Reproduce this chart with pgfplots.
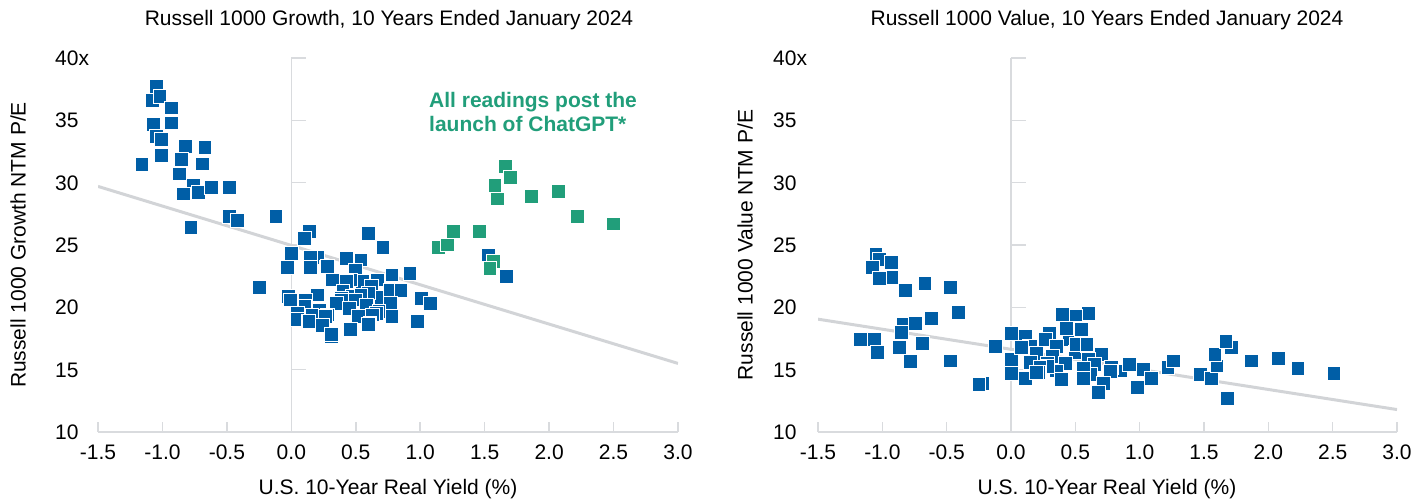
\documentclass[border=0pt]{standalone}
\usepackage{fontspec}
\setmainfont{Liberation Sans}
\usepackage{pgfplots}
\pgfplotsset{compat=1.18}
\definecolor{pblue}{RGB}{0,94,166}
\definecolor{pgreen}{RGB}{33,158,122}
\definecolor{axgray}{RGB}{217,219,222}
\definecolor{lngray}{RGB}{210,212,215}
\pgfplotsset{
  myaxis/.style={
    scale only axis, height=374pt,
    xmin=-1.5, xmax=3, ymin=10, ymax=40,
    axis x line*=bottom, axis y line*=left,
    y axis line style={draw=none},
    x axis line style={draw=axgray, line width=1.5pt},
    xtick={-1.5,-1,-0.5,0,0.5,1,1.5,2,2.5,3},
    xticklabels={-1.5,-1.0,-0.5,0.0,0.5,1.0,1.5,2.0,2.5,3.0},
    ytick={10,15,20,25,30,35,40},
    yticklabels={10,15,20,25,30,35,40x},
    xtick style={draw=axgray, line width=1.5pt},
    ytick style={draw=none},
    major tick length=10pt,
    tick align=inside,
    tick label style={font=\fontsize{21}{25}\selectfont, text=black},
    xticklabel style={anchor=base, inner sep=0pt, yshift=-27.5pt},
    yticklabel style={anchor=base west, inner sep=0pt, yshift=-7.5pt},
  },
  bpts/.style={only marks, mark=square*, mark size=6.9pt,
    mark options={fill=pblue, draw=white, line width=0.8pt}},
  gpts/.style={only marks, mark=square*, mark size=6.9pt,
    mark options={fill=pgreen, draw=white, line width=0.8pt}},
}
\begin{document}
\begin{tikzpicture}
\path[use as bounding box] (0,0) rectangle (1426pt,500pt);
% ---------------- Left chart ----------------
\begin{axis}[myaxis, width=580pt, at={(98pt,68pt)}, anchor=south west,
  yticklabel style={xshift=-43pt}]
\draw[axgray, line width=1.5pt] (axis cs:0,10) -- (axis cs:0,40);
\draw[axgray, line width=1.5pt] (axis cs:0,15) -- ++(15pt,0pt);
\draw[axgray, line width=1.5pt] (axis cs:0,20) -- ++(15pt,0pt);
\draw[axgray, line width=1.5pt] (axis cs:0,25) -- ++(15pt,0pt);
\draw[axgray, line width=1.5pt] (axis cs:0,30) -- ++(15pt,0pt);
\draw[axgray, line width=1.5pt] (axis cs:0,35) -- ++(15pt,0pt);
\draw[axgray, line width=1.5pt] (axis cs:0,40) -- ++(15pt,0pt);
\addplot[bpts] coordinates {
(-1.05,37.7) (-1.08,36.6) (-1.02,36.9) (-0.93,36.0) (-1.07,34.65) (-0.93,34.8)
(-1.05,33.7) (-1.01,33.5) (-1.01,32.2) (-1.16,31.45) (-0.82,32.9) (-0.67,32.8)
(-0.85,31.85) (-0.69,31.5) (-0.87,30.7) (-0.76,29.8) (-0.72,29.2) (-0.84,29.1)
(-0.62,29.6) (-0.48,29.6) (-0.48,27.3) (-0.42,27.0) (-0.78,26.4) (-0.12,27.3)
(0.14,26.1) (0.10,25.5) (0.60,25.9) (0.71,24.8) (0.00,24.3) (0.20,24.0)
(0.15,24.0) (0.425,23.9) (0.54,23.8) (-0.03,23.2) (0.15,23.2) (0.27,23.2)
(0.28,23.3) (0.50,23.0) (0.78,22.6) (0.92,22.7) (0.31,22.15) (0.32,22.2)
(0.55,22.0) (0.55,22.1) (0.67,22.2) (0.46,22.2) (0.43,22.1) (-0.25,21.6)
(0.62,21.7) (0.40,21.3) (0.20,21.0) (0.47,20.9) (0.70,20.8)
(0.77,21.35) (0.85,21.35) (0.60,21.15) (0.54,20.9) (0.54,21.0) (0.39,20.7)
(0.39,20.6) (-0.02,20.9) (-0.01,20.6) (0.11,20.6) (1.01,20.7) (1.08,20.3)
(0.50,20.6) (0.35,20.3) (0.58,20.2) (0.45,19.9) (0.22,19.8)
(0.105,20.1) (0.77,20.3) (0.77,20.35) (0.68,19.7) (0.66,19.5) (0.52,19.3)
(0.63,19.4) (0.28,19.4) (0.265,19.3) (0.16,19.4) (0.045,19.5) (0.78,19.3)
(0.05,19.0) (0.13,18.9) (0.136,18.9) (0.97,18.9) (0.98,18.9) (0.61,18.7) (0.60,18.6)
(0.24,18.55) (0.46,18.2) (0.31,17.7) (0.31,17.8) (1.53,24.2) (1.67,22.5)
};
\addplot[gpts] coordinates {
(1.66,31.3) (1.70,30.4) (1.58,29.75) (1.60,28.7) (1.86,28.9) (2.07,29.3)
(2.22,27.3) (2.50,26.7) (1.26,26.1) (1.46,26.1) (1.14,24.8) (1.21,25.0)
(1.57,23.7) (1.54,23.1)
};
\addplot[draw=lngray, line width=3pt] coordinates {(-1.5,29.7) (3.0,15.5)};
\end{axis}
% ---------------- Right chart ----------------
\begin{axis}[myaxis, width=579pt, at={(818pt,68pt)}, anchor=south west,
  yticklabel style={xshift=-45pt}]
\draw[axgray, line width=1.5pt] (axis cs:0,10) -- (axis cs:0,40);
\draw[axgray, line width=1.5pt] (axis cs:0,15) -- ++(15pt,0pt);
\draw[axgray, line width=1.5pt] (axis cs:0,20) -- ++(15pt,0pt);
\draw[axgray, line width=1.5pt] (axis cs:0,25) -- ++(15pt,0pt);
\draw[axgray, line width=1.5pt] (axis cs:0,30) -- ++(15pt,0pt);
\draw[axgray, line width=1.5pt] (axis cs:0,35) -- ++(15pt,0pt);
\draw[axgray, line width=1.5pt] (axis cs:0,40) -- ++(15pt,0pt);
\addplot[bpts] coordinates {
(-1.05,24.25) (-1.02,23.85) (-0.93,23.6) (-1.08,23.2) (-0.93,22.4) (-1.02,22.3)
(-0.82,21.35) (-0.67,21.9) (-0.47,21.6) (-0.41,19.6) (-0.62,19.1) (-0.84,18.6)
(-0.74,18.7) (-0.85,18.0) (-0.69,17.1) (-0.87,16.8) (-1.17,17.4) (-1.06,17.45)
(-1.04,16.4) (-0.78,15.65) (-0.47,15.7) (-0.22,13.9) (-0.25,13.8) (-0.12,16.85)
(0.0,17.9) (0.11,17.65) (0.14,16.9) (0.15,16.9) (0.0,15.9) (0.0,15.8) (0.0,14.7)
(0.30,17.9) (0.45,17.4) (0.08,16.8) (0.20,16.3) (0.50,16.4)
(0.11,14.3) (0.40,19.46) (0.60,19.5) (0.505,19.3) (0.43,18.3) (0.54,18.3)
(0.545,18.25) (0.26,17.4) (0.27,17.4) (0.355,16.85) (0.51,17.0) (0.59,16.9)
(0.59,17.0) (0.32,16.05) (0.70,16.2) (0.60,15.8) (0.42,15.5) (0.28,15.5)
(0.15,15.6) (0.65,15.4) (0.35,14.9) (0.62,14.6) (0.85,14.9)
(0.28,15.25) (0.225,15.2) (0.56,15.1) (0.78,15.2) (0.77,14.85) (0.92,15.4)
(1.03,15.0) (1.22,15.2) (1.26,15.7) (0.21,14.8) (0.2,14.8) (0.39,14.2)
(0.39,14.25) (0.56,14.3) (0.72,13.9) (0.68,13.2) (0.98,13.55) (1.09,14.3)
(1.47,14.6) (1.56,14.3) (1.60,15.3) (1.585,16.2) (1.71,16.8) (1.67,17.25)
(1.68,12.7) (1.87,15.7) (2.08,15.9) (2.23,15.1) (2.51,14.7)
};
\addplot[draw=lngray, line width=3pt] coordinates {(-1.5,19.05) (3.0,11.8)};
\end{axis}
% ---------------- Texts ----------------
\node[anchor=base, font=\fontsize{21}{25}\selectfont] at (389pt,474.5pt)
  {Russell 1000 Growth, 10 Years Ended January 2024};
\node[anchor=base, font=\fontsize{21}{25}\selectfont] at (1107pt,474.5pt)
  {Russell 1000 Value, 10 Years Ended January 2024};
\node[anchor=base, font=\fontsize{21}{25}\selectfont] at (388pt,5.5pt)
  {U.S. 10-Year Real Yield (\%)};
\node[anchor=base, font=\fontsize{21}{25}\selectfont] at (1107pt,5.5pt)
  {U.S. 10-Year Real Yield (\%)};
\node[anchor=base, rotate=90, font=\fontsize{21}{25}\selectfont] at (25.5pt,255pt)
  {Russell 1000 Growth NTM P/E};
\node[anchor=base, rotate=90, font=\fontsize{21}{25}\selectfont] at (752.5pt,255pt)
  {Russell 1000 Value NTM P/E};
\node[anchor=base west, inner sep=0pt, text=pgreen, font=\bfseries\fontsize{21}{25}\selectfont]
  at (429pt,392.5pt) {All readings post the};
\node[anchor=base west, inner sep=0pt, text=pgreen, font=\bfseries\fontsize{21}{25}\selectfont]
  at (429pt,368.5pt) {launch of ChatGPT*};
\end{tikzpicture}
\end{document}
